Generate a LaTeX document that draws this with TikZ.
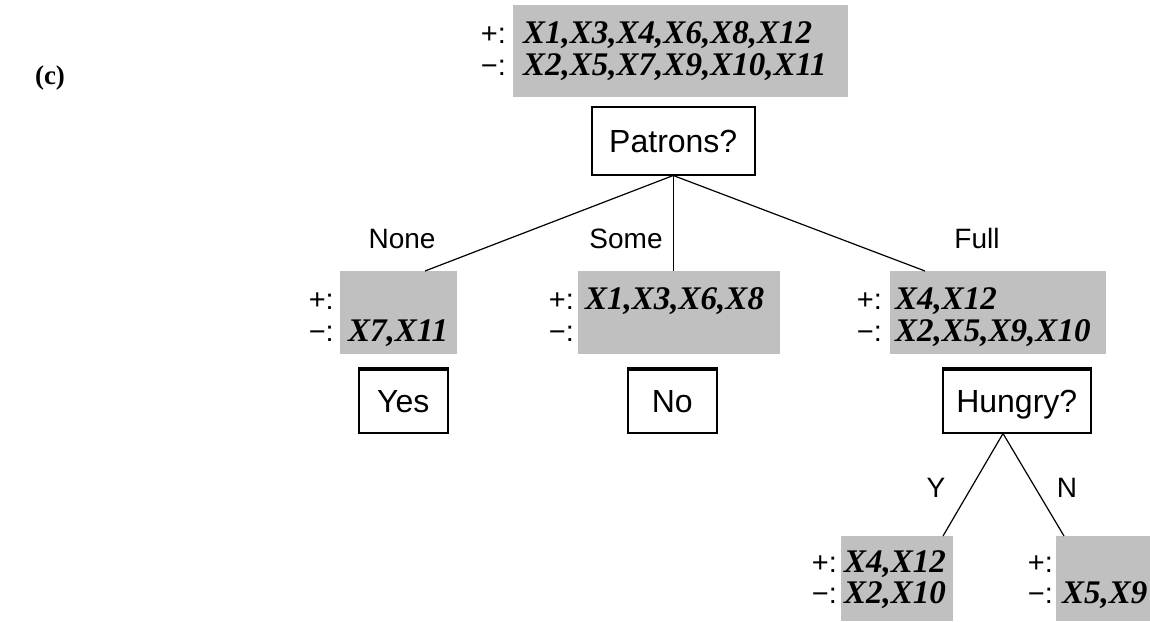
\documentclass[tikz,border=0pt]{standalone}
\usepackage{fontspec}
\setmainfont{Liberation Sans}
\newfontfamily\xfont{Liberation Serif}
\definecolor{boxgrey}{RGB}{192,192,192}
\tikzset{
  greybox/.style={fill=boxgrey, draw=none, inner sep=0pt, anchor=north west},
  xtext/.style={inner sep=0pt, anchor=base west, font=\xfont\bfseries\itshape\fontsize{33}{33}\selectfont},
  sign/.style={inner sep=0pt, anchor=base east, font=\fontsize{29}{29}\selectfont},
  lbl/.style={inner sep=0pt, anchor=base, font=\fontsize{28}{28}\selectfont},
  dec/.style={draw=black, line width=1.5pt, fill=white, inner sep=0pt, anchor=north west,
    text height=23pt, text depth=0pt, font=\fontsize{32}{32}\selectfont},
  conn/.style={draw=black, line width=1.2pt},
  thicktop/.style={line width=4pt},
}
\begin{document}
\begin{tikzpicture}[x=1pt,y=-1pt]
\useasboundingbox (0,0) rectangle (1150,621);
% panel label
\node[inner sep=0pt, anchor=base, font=\xfont\bfseries\fontsize{27}{27}\selectfont] (panel) at (50,84) {(c)};
% root
\node[greybox, minimum width=335pt, minimum height=92pt] (rootb) at (513,5) {};
\node[xtext] (rootp) at (523,43) {X1,X3,X4,X6,X8,X12};
\node[xtext] (rootm) at (523,75) {X2,X5,X7,X9,X10,X11};
\node[sign] (rootps) at (506,43) {+:};
\node[sign] (rootms) at (506,75) {−:};
% Patrons
\node[dec, minimum width=163pt, minimum height=68pt] (patrons) at (591,106) {Patrons?};
% None
\node[greybox, minimum width=117pt, minimum height=83pt] (noneb) at (340,271) {};
\node[xtext] (nonem) at (348,341) {X7,X11};
\node[sign] (noneps) at (334,309) {+:};
\node[sign] (nonems) at (334,341) {−:};
% Some
\node[greybox, minimum width=202pt, minimum height=83pt] (someb) at (578,271) {};
\node[xtext] (somep) at (585,309) {X1,X3,X6,X8};
\node[sign] (someps) at (574,309) {+:};
\node[sign] (somems) at (574,341) {−:};
% Full
\node[greybox, minimum width=216pt, minimum height=83pt] (fullb) at (890,271) {};
\node[xtext] (fullp) at (895,309) {X4,X12};
\node[xtext] (fullm) at (895,341) {X2,X5,X9,X10};
\node[sign] (fullps) at (882,309) {+:};
\node[sign] (fullms) at (882,341) {−:};
% branch labels
\node[lbl] (lnone) at (402,248) {None};
\node[lbl] (lsome) at (626,248) {Some};
\node[lbl] (lfull) at (977,248) {Full};
% leaves
\node[dec, minimum width=89pt, minimum height=63pt] (yes) at (358,369) {Yes};
\node[dec, minimum width=89pt, minimum height=63pt] (no) at (627,369) {No};
\node[dec, minimum width=148pt, minimum height=63pt] (hungry) at (942,369) {Hungry?};
\draw[thicktop] (yes.north west) -- (yes.north east);
\draw[thicktop] (no.north west) -- (no.north east);
\draw[thicktop] (hungry.north west) -- (hungry.north east);
% Hungry children
\node[greybox, minimum width=112pt, minimum height=85pt] (yb) at (841,536) {};
\node[xtext] (yp) at (844,572) {X4,X12};
\node[xtext] (ym) at (844,603) {X2,X10};
\node[sign] (yps) at (837,572) {+:};
\node[sign] (yms) at (837,603) {−:};
\node[greybox, minimum width=94pt, minimum height=85pt] (nb) at (1056,536) {};
\node[xtext] (nm) at (1062,603) {X5,X9};
\node[sign] (nps) at (1053,572) {+:};
\node[sign] (nms) at (1053,603) {−:};
\node[lbl] (ly) at (936,497) {Y};
\node[lbl] (ln) at (1067,497) {N};
% connectors
\draw[conn] (patrons.south) -- ([xshift=85pt]noneb.north west);
\draw[conn] (patrons.south) -- (patrons.south |- someb.north);
\draw[conn] (patrons.south) -- ([xshift=35pt]fullb.north west);
\coordinate (hfork) at ([xshift=61pt]hungry.south west);
\draw[conn] (hfork) -- ([xshift=102pt]yb.north west);
\draw[conn] (hfork) -- ([xshift=8pt]nb.north west);
\end{tikzpicture}
\end{document}
